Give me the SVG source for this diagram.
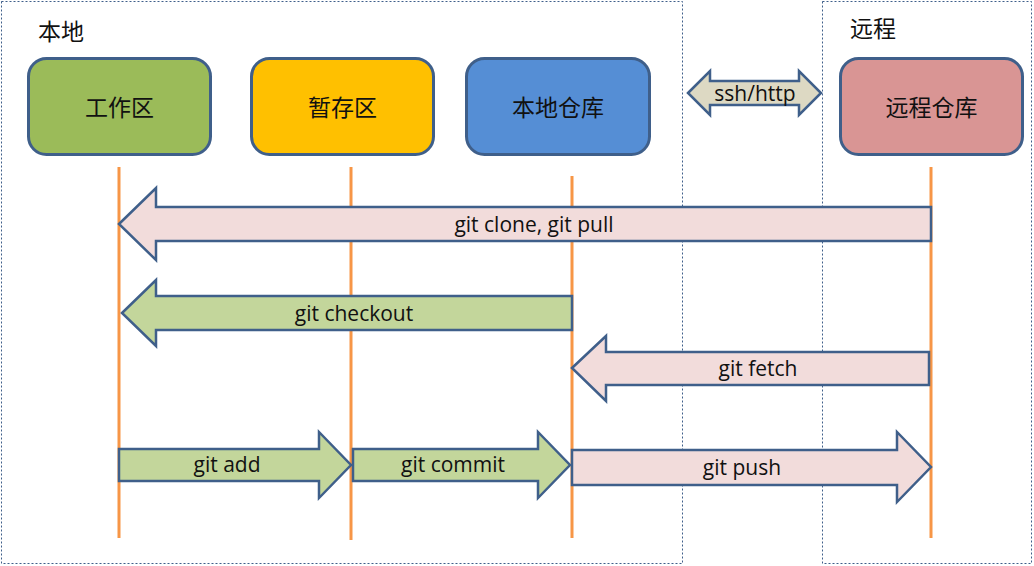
<svg xmlns="http://www.w3.org/2000/svg" width="1034" height="566" viewBox="0 0 1034 566">
<style>
.region{fill:none;stroke:#3F5F8A;stroke-width:1;stroke-dasharray:2 2}
.node{stroke:#3F5F8A;stroke-width:3}
.cn{font-family:"Noto Sans CJK SC",sans-serif;font-size:23px;fill:#111;text-anchor:middle;dominant-baseline:central}
.title{font-family:"Noto Sans CJK SC",sans-serif;font-size:23px;fill:#111;dominant-baseline:central}
.life{stroke:#F79646;stroke-width:3}
.arr{stroke:#3F5F8A;stroke-width:2.5;stroke-linejoin:miter}
.pink{fill:#F2DCDB}
.green{fill:#C3D69B}
.lbl{font-family:"Open Sans","Liberation Sans",sans-serif;font-size:21px;fill:#111;text-anchor:middle;dominant-baseline:central}
</style>
<rect width="1034" height="566" fill="#fff"/>
<g id="regions">
<rect class="region" x="1.5" y="1.5" width="681" height="562"/>
<rect class="region" x="822.5" y="1.5" width="209" height="562"/>
<text class="title" x="38" y="30">本地</text>
<text class="title" x="850" y="27">远程</text>
</g>
<g id="lifelines">
<line class="life" x1="119" y1="167" x2="119" y2="538"/>
<line class="life" x1="351" y1="167" x2="351" y2="540"/>
<line class="life" x1="572" y1="176" x2="572" y2="538"/>
<line class="life" x1="931" y1="167" x2="931" y2="538"/>
</g>
<g id="node-work">
<rect class="node" x="28.5" y="58.5" width="182" height="96" rx="18" fill="#9BBB59"/>
<text class="cn" x="119.5" y="106">工作区</text>
</g>
<g id="node-stage">
<rect class="node" x="251.5" y="58.5" width="182" height="96" rx="18" fill="#FFC000"/>
<text class="cn" x="342.5" y="106">暂存区</text>
</g>
<g id="node-local">
<rect class="node" x="466.5" y="58.5" width="183" height="96" rx="18" fill="#558ED5"/>
<text class="cn" x="558" y="106">本地仓库</text>
</g>
<g id="node-remote">
<rect class="node" x="840.5" y="58.5" width="182" height="96" rx="18" fill="#D99594"/>
<text class="cn" x="931.5" y="106">远程仓库</text>
</g>
<g id="connectors">
<g id="ssh">
<polygon class="arr" fill="#DDD9C3" points="688,93 710,71 710,81 799,81 799,71 821,93 799,115 799,105 710,105 710,115"/>
<text class="lbl" x="755" y="93">ssh/http</text>
</g>
<g id="clone">
<polygon class="arr pink" points="119,224 156,188 156,207 931,207 931,241 156,241 156,260"/>
<text class="lbl" x="534" y="224">git clone, git pull</text>
</g>
<g id="checkout">
<polygon class="arr green" points="122,313 156,280 156,296 572,296 572,330 156,330 156,346"/>
<text class="lbl" x="354" y="313">git checkout</text>
</g>
<g id="fetch">
<polygon class="arr pink" points="572,368 606,336 606,352 929,352 929,385 606,385 606,401"/>
<text class="lbl" x="758" y="368">git fetch</text>
</g>
<g id="add">
<polygon class="arr green" points="119,449 319,449 319,432 351,465 319,498 319,481 119,481"/>
<text class="lbl" x="227" y="464">git add</text>
</g>
<g id="commit">
<polygon class="arr green" points="353,449 538,449 538,432 570,465 538,498 538,481 353,481"/>
<text class="lbl" x="453" y="464">git commit</text>
</g>
<g id="push">
<polygon class="arr pink" points="572,450 897,450 897,432 931,467 897,502 897,485 572,485"/>
<text class="lbl" x="742" y="467">git push</text>
</g>
</g>
</svg>
